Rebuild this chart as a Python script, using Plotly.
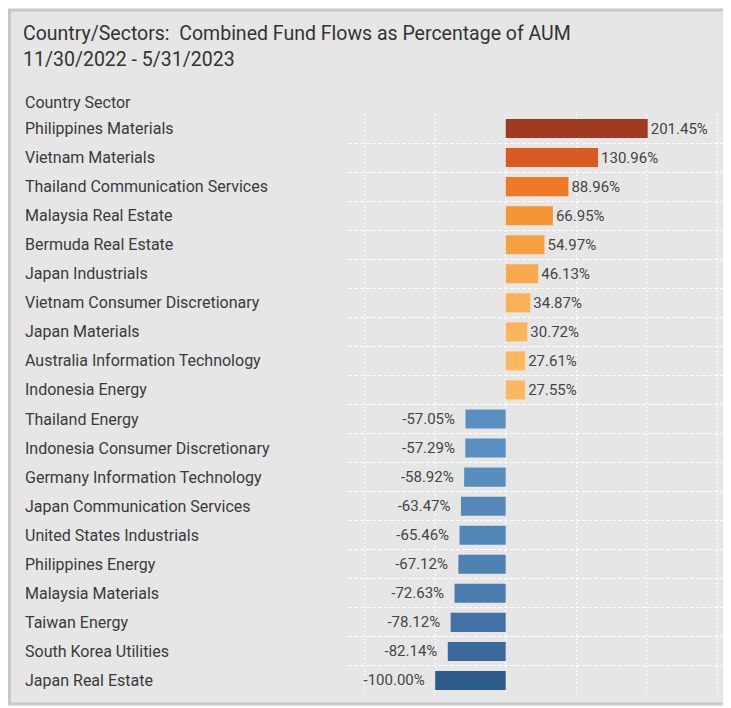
import plotly.graph_objects as go

categories = [
    "Philippines Materials", "Vietnam Materials", "Thailand Communication Services",
    "Malaysia Real Estate", "Bermuda Real Estate", "Japan Industrials",
    "Vietnam Consumer Discretionary", "Japan Materials", "Australia Information Technology",
    "Indonesia Energy", "Thailand Energy", "Indonesia Consumer Discretionary",
    "Germany Information Technology", "Japan Communication Services",
    "United States Industrials", "Philippines Energy", "Malaysia Materials",
    "Taiwan Energy", "South Korea Utilities", "Japan Real Estate",
]
flows_pct = [
    201.45, 130.96, 88.96, 66.95, 54.97, 46.13, 34.87, 30.72, 27.61, 27.55,
    -57.05, -57.29, -58.92, -63.47, -65.46, -67.12, -72.63, -78.12, -82.14, -100.00,
]
bar_colors = [
    "#9e3b20", "#d95b22", "#ee7a28", "#f49536", "#f7a040", "#f9a94b", "#fbb157",
    "#fcb55c", "#fdb75e", "#fdb75e",
    "#5a90c1", "#5a90c1", "#588ebe", "#5388b9", "#5085b6", "#4e82b3", "#4a7cad",
    "#4371a4", "#3b699c", "#2c5a8a",
]
title_lines = ["Country/Sectors:  Combined Fund Flows as Percentage of AUM",
               "11/30/2022 - 5/31/2023"]
column_header = "Country Sector"

# page body adds an 8px margin: figure pixel = screen pixel - 8
OFF = 8
W, H = 723, 700
L, R, T, B = 340, 0, 105.6, 13.4
PW, PH = W - L - R, H - T - B

def px_x(sx):
    return (sx - OFF - L) / PW

def px_y(sy):
    return (H - B - (sy - OFF)) / PH

FONT = "Roboto, Arial, sans-serif"
TXT = "#3a3a3a"

text_tpl = ["%{x:.2f}%" if v >= 0 else "%{x:.2f}%\u00a0\u00a0" for v in flows_pct]

fig = go.Figure(go.Bar(
    x=flows_pct,
    y=categories,
    orientation="h",
    marker=dict(color=bar_colors, line=dict(width=0)),
    texttemplate=text_tpl,
    textposition="outside",
    textfont=dict(family=FONT, size=15, color="#444444"),
    cliponaxis=False,
    hoverinfo="skip",
))

annotations = [
    dict(text=column_header, xref="paper", yref="paper", x=px_x(23), y=px_y(102),
         xanchor="left", yanchor="middle", showarrow=False,
         font=dict(family=FONT, size=16, color=TXT)),
]
for c in categories:
    annotations.append(dict(text=c, xref="paper", yref="y", x=px_x(23), y=c,
                            xanchor="left", yanchor="middle", showarrow=False,
                            font=dict(family=FONT, size=16, color=TXT)))
for i, line in enumerate(title_lines):
    annotations.append(dict(text=line, xref="paper", yref="paper", x=px_x(21),
                            y=px_y(33 + 26 * i), xanchor="left", yanchor="middle",
                            showarrow=False,
                            font=dict(family=FONT, size=19.5, color="#333333")))

fig.update_layout(
    width=W, height=H,
    margin=dict(l=L, r=R, t=T, b=B, pad=0),
    paper_bgcolor="#ffffff",
    plot_bgcolor="rgba(0,0,0,0)",
    showlegend=False,
    bargap=0.345,
    annotations=annotations,
    shapes=[dict(type="rect", xref="paper", yref="paper", layer="below",
                 x0=px_x(9.5), x1=px_x(760), y0=px_y(703.5), y1=px_y(9.5),
                 fillcolor="#e6e6e6", line=dict(color="#c8c8c8", width=3))],
    xaxis=dict(range=[-223.7, 319.6], dtick=100, tick0=0, showticklabels=False,
               showgrid=True, gridcolor="#ffffff", gridwidth=1, griddash="2px,2px",
               zeroline=False, showline=False, fixedrange=True),
    yaxis=dict(autorange="reversed", tickson="boundaries", showticklabels=False,
               ticks="", showgrid=True, gridcolor="#ffffff", gridwidth=1,
               griddash="4px,2px", zeroline=False, showline=False, fixedrange=True),
)

fig.write_html("out.html")
